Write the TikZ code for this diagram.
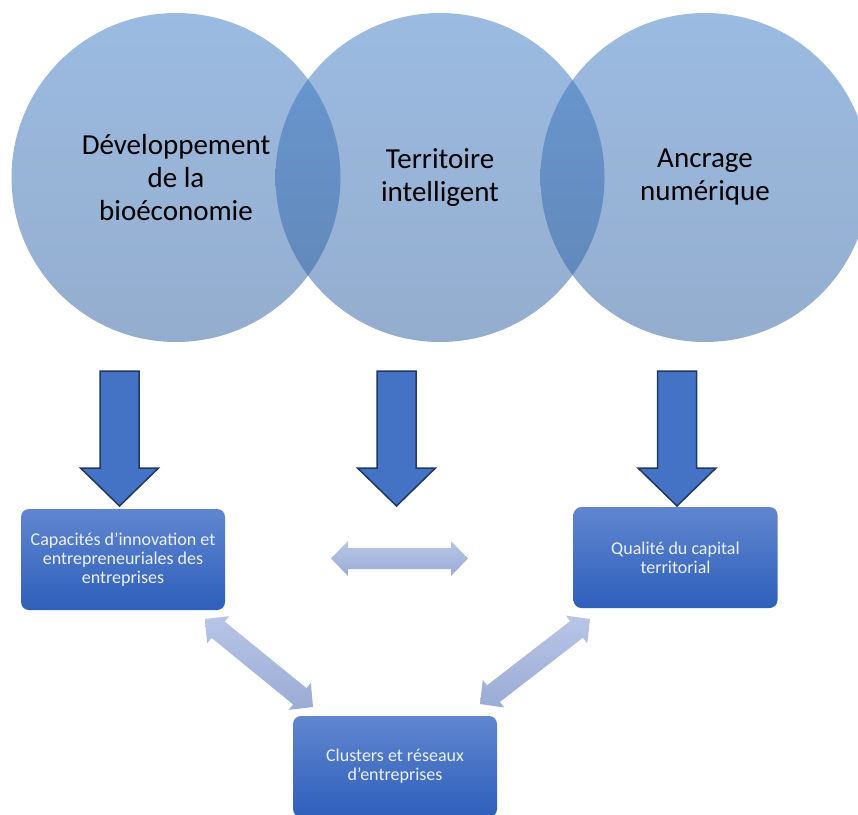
\documentclass[tikz,border=0pt]{standalone}
\usepackage{fontspec}
\setmainfont{Carlito}
\usetikzlibrary{calc}
\definecolor{venntop}{RGB}{59,122,198}
\definecolor{vennbot}{RGB}{47,96,159}
\definecolor{arrowblue}{HTML}{4472C4}
\definecolor{arrowline}{HTML}{1F3864}
\definecolor{boxtop}{RGB}{96,134,207}
\definecolor{boxbot}{RGB}{46,95,187}
\definecolor{boxtext}{RGB}{236,241,250}
\definecolor{lighttop}{RGB}{184,197,231}
\definecolor{lightbot}{RGB}{154,171,212}
\newcommand{\twoway}[2]{%
  \coordinate (h1) at ($(#1)!17pt!(#2)$);
  \coordinate (h2) at ($(#2)!17pt!(#1)$);
  \shade[twowayfill] (#1) -- ($(h1)!17.5pt!90:(#2)$) -- ($(h1)!10.5pt!90:(#2)$)
    -- ($(h2)!10.5pt!-90:(#1)$) -- ($(h2)!17.5pt!-90:(#1)$) -- (#2)
    -- ($(h2)!17.5pt!90:(#1)$) -- ($(h2)!10.5pt!90:(#1)$)
    -- ($(h1)!10.5pt!-90:(#2)$) -- ($(h1)!17.5pt!-90:(#2)$) -- cycle;}
\tikzset{
  venn/.style={circle, inner sep=0pt, minimum size=329pt, top color=venntop,
    bottom color=vennbot, fill opacity=0.51, text opacity=1, text=black,
    align=center, font=\fontsize{29}{33}\selectfont},
  box/.style={rectangle, rounded corners=8pt, minimum width=204pt,
    minimum height=101pt, top color=boxtop, bottom color=boxbot, text=boxtext,
    align=center, font=\fontsize{18}{19}\selectfont},
  bigarrow/.style={fill=arrowblue, draw=arrowline, line width=1.5pt, line join=miter},
  twowayfill/.style={top color=lighttop, bottom color=lightbot},
  blockdown/.pic={\path[bigarrow] (-19.5,0) -- (19.5,0) -- (19.5,97) -- (39,97)
    -- (0,135) -- (-39,97) -- (-19.5,97) -- cycle;}
}
\begin{document}
\begin{tikzpicture}[x=1pt,y=-1pt]
\clip (0,0) rectangle (858,814);
\fill[white] (0,0) rectangle (858,814);
% Venn circles
\node[venn] (c1) at (176,177.5) {Développement\\de la\\bioéconomie};
\node[venn] (c2) at (440,177.5) {Territoire\\intelligent};
\node[venn] (c3) at (705,177.5) {Ancrage\\numérique};
% Boxes
\node[box] (b1) at (123,559.5) {Capacités d’innovation et\\entrepreneuriales des\\entreprises};
\node[box] (b2) at (675.5,557.5) {Qualité du capital\\territorial};
\node[box] (b3) at (395,766.5) {Clusters et réseaux\\d’entreprises};
% Down block arrows
\pic (d1) at (119.5,371) {blockdown};
\pic (d2) at (396.5,371) {blockdown};
\pic (d3) at (677,371) {blockdown};
% Two-way arrows
\coordinate (m1) at (331,558.5);
\coordinate (m2) at (468,558.5);
\coordinate (l1) at (205,619);
\coordinate (l2) at (313,707);
\coordinate (r1) at (590,619);
\coordinate (r2) at (480,704);
\twoway{m1}{m2}
\twoway{l1}{l2}
\twoway{r1}{r2}
\end{tikzpicture}
\end{document}
